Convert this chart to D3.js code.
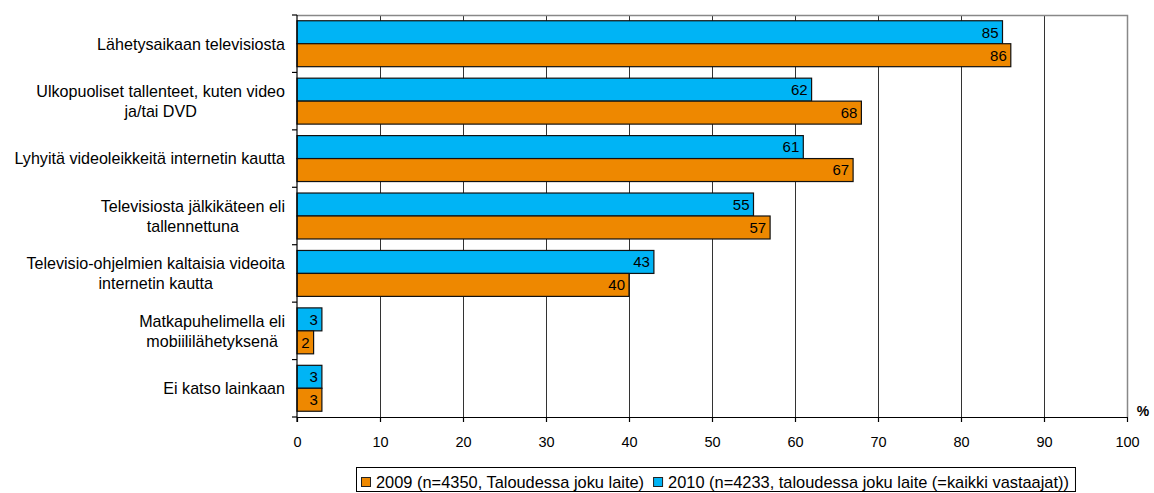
<!DOCTYPE html>
<html><head><meta charset="utf-8">
<script src="https://cdn.jsdelivr.net/npm/d3@7"></script>
<style>body{margin:0;background:#fff}svg{display:block}text{font-family:"Liberation Sans",Arial,sans-serif}</style>
</head><body>
<svg id="c" width="1154" height="493"></svg>
<script>
const categories = [
  ["Lähetysaikaan televisiosta"],
  ["Ulkopuoliset tallenteet, kuten video","ja/tai DVD"],
  ["Lyhyitä videoleikkeitä internetin kautta"],
  ["Televisiosta jälkikäteen eli","tallennettuna"],
  ["Televisio-ohjelmien kaltaisia videoita","internetin kautta"],
  ["Matkapuhelimella eli","mobiililähetyksenä"],
  ["Ei katso lainkaan"]
];
const values2010 = [85, 62, 61, 55, 43, 3, 3];
const values2009 = [86, 68, 67, 57, 40, 2, 3];
const xTicks = [0,10,20,30,40,50,60,70,80,90,100];
const seriesNames = ["2009 (n=4350, Taloudessa joku laite)", "2010 (n=4233, taloudessa joku laite (=kaikki vastaajat))"];
const colors = {s2009:"#EE8800", s2010:"#00B4F5"};

const svg = d3.select("#c");
const L=297, R=1127, T=15, B=417;
const x = d3.scaleLinear().domain([0,100]).range([L,R]);
const y = d3.scaleBand().domain(d3.range(categories.length)).range([T,B]).paddingInner(0.2).paddingOuter(0.1);
const yb = d3.scaleBand().domain(d3.range(categories.length)).range([T,B]);

// gridlines
svg.append("g").selectAll("line").data(xTicks.filter(d=>d>0&&d<100)).join("line")
  .attr("x1",d=>x(d)+0.5).attr("x2",d=>x(d)+0.5).attr("y1",T).attr("y2",B)
  .attr("stroke","#333").attr("stroke-width",1);
// top & right border
svg.append("path").attr("d",`M${L},${T+0.5}H${R+0.5}V${B}`).attr("fill","none").attr("stroke","#888").attr("stroke-width",1.5);

// bars
const bh = y.bandwidth()/2;
const g = svg.append("g");
categories.forEach((c,i)=>{
  const y0 = y(i);
  [[values2010[i],colors.s2010,y0],[values2009[i],colors.s2009,y0+bh]].forEach(([v,col,yy])=>{
    g.append("rect").attr("x",x(0)).attr("y",yy).attr("width",x(v)-x(0)).attr("height",bh)
      .attr("fill",col).attr("stroke","#111").attr("stroke-width",1.2);
    g.append("text").attr("x",x(v)-4).attr("y",yy+bh/2).attr("dy","0.36em").attr("text-anchor","end")
      .attr("font-size",15).attr("fill","#000").text(v);
  });
});

// y axis
svg.append("line").attr("x1",L).attr("x2",L).attr("y1",T).attr("y2",B+5).attr("stroke","#000").attr("stroke-width",1.2);
svg.append("g").selectAll("line").data(d3.range(categories.length+1)).join("line")
  .attr("x1",L-5).attr("x2",L).attr("y1",d=>d<categories.length?yb(d):B).attr("y2",d=>d<categories.length?yb(d):B)
  .attr("stroke","#000").attr("stroke-width",1.2);
// x axis
const xa = svg.append("g").attr("transform",`translate(0,${B})`)
  .call(d3.axisBottom(x).tickValues(xTicks).tickSize(5).tickSizeOuter(0));
xa.select(".domain").attr("stroke","#000").attr("stroke-width",1.2);
xa.selectAll(".tick line").attr("stroke","#000").attr("stroke-width",1.2);
xa.selectAll(".tick text").attr("font-size",14.5).attr("fill","#000").attr("y",20).attr("font-family","Liberation Sans, Arial, sans-serif");
svg.append("text").attr("x",1143).attr("y",416).attr("text-anchor","middle").attr("font-size",14).attr("font-weight","bold").text("%");

// category labels
categories.forEach((lines,i)=>{
  const cy = yb(i)+yb.bandwidth()/2;
  const t = svg.append("text").attr("font-size",16.1).attr("fill","#000").attr("text-anchor","middle");
  const n = lines.length;
  const lh = 20;
  lines.forEach((ln,j)=>{
    t.append("tspan").attr("y",cy+(j-(n-1)/2)*lh).attr("dy","0.36em").text(ln);
  });
  let mw = 0;
  t.selectAll("tspan").each(function(){mw=Math.max(mw,this.getComputedTextLength());});
  t.selectAll("tspan").attr("x",285-mw/2);
});

// legend
const lg = svg.append("g");
const items = seriesNames.map((s,i)=>({s, col: i===0?colors.s2009:colors.s2010}));
let cx = 361;
items.forEach((it,i)=>{
  lg.append("rect").attr("x",cx+0.5).attr("y",477.5).attr("width",9).attr("height",9).attr("fill",it.col).attr("stroke","#222").attr("stroke-width",1);
  const tt = lg.append("text").attr("x",cx+15).attr("y",482).attr("dy","0.36em").attr("font-size",16.4).text(it.s);
  cx += 15 + tt.node().getComputedTextLength() + 9;
});
lg.insert("rect",":first-child").attr("x",356.5).attr("y",467.5).attr("width",cx-356-3).attr("height",24).attr("fill","#fff").attr("stroke","#000").attr("stroke-width",1);
</script>
</body></html>
